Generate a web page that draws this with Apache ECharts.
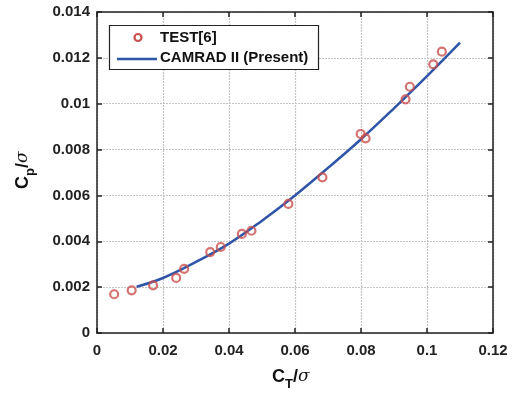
<!DOCTYPE html>
<html><head><meta charset="utf-8">
<script src="https://cdn.jsdelivr.net/npm/echarts@6/dist/echarts.min.js"></script>
<style>html,body{margin:0;padding:0;background:#fff}#c{width:515px;height:396px}</style>
</head><body><div id="c"></div>
<script>
const testCT = [0.0052,0.0105,0.017,0.024,0.0264,0.0343,0.0375,0.0439,0.0468,0.058,0.0683,0.0799,0.0814,0.0935,0.0948,0.1019,0.1045];
const testCP = [0.00169,0.00186,0.00208,0.0024,0.0028,0.00353,0.00375,0.00432,0.00446,0.00563,0.00679,0.00868,0.00849,0.01019,0.01074,0.01172,0.01227];
const camCT = [0.012,0.02,0.03,0.04,0.05,0.06,0.07,0.08,0.09,0.1,0.11];
const camCP = [0.00202,0.0024,0.0031,0.0039,0.0049,0.0060,0.0072,0.00845,0.0098,0.0112,0.01266];
const xTicks = [0,0.02,0.04,0.06,0.08,0.1,0.12];
const yTicks = [0,0.002,0.004,0.006,0.008,0.01,0.012,0.014];

const chart = echarts.init(document.getElementById('c'), null, {renderer:'canvas'});
const font = 'Liberation Sans, Arial, sans-serif';
const lab = {fontFamily:font,fontWeight:'bold',fontSize:15,color:'#222'};
const base = {type:'value',axisLine:{show:true,onZero:false,lineStyle:{color:'#222',width:1.5}},
  axisTick:{show:true,inside:true,length:5,lineStyle:{color:'#222',width:1.5}}};
chart.setOption({
  animation:false,
  grid:{left:97,right:22,top:12,bottom:63},
  xAxis:[
    Object.assign({},base,{min:xTicks[0],max:xTicks[xTicks.length-1],interval:0.02,position:'bottom',
      axisLabel:Object.assign({margin:10,formatter:v=>String(+v.toFixed(4))},lab),
      splitLine:{show:true,lineStyle:{color:'#c4c4c4',type:[2,1],width:1.2}}}),
    Object.assign({},base,{min:xTicks[0],max:xTicks[xTicks.length-1],interval:0.02,position:'top',axisLabel:{show:false},splitLine:{show:false}})
  ],
  yAxis:[
    Object.assign({},base,{min:yTicks[0],max:yTicks[yTicks.length-1],interval:0.002,position:'left',
      axisLabel:Object.assign({margin:7,formatter:v=>String(+v.toFixed(4))},lab),
      splitLine:{show:true,lineStyle:{color:'#c4c4c4',type:[2,1],width:1.2}}}),
    Object.assign({},base,{min:yTicks[0],max:yTicks[yTicks.length-1],interval:0.002,position:'right',axisLabel:{show:false},splitLine:{show:false}})
  ],
  legend:{show:false},
  series:[
    {name:'CAMRAD II (Present)',type:'line',data:camCT.map((x,i)=>[x,camCP[i]]),smooth:0.4,showSymbol:false,
      lineStyle:{color:'#2f55a8',width:2.5},z:2},
    {name:'TEST[6]',type:'scatter',data:testCT.map((x,i)=>[x,testCP[i]]),symbol:'circle',symbolSize:8,
      itemStyle:{color:'rgba(0,0,0,0)',borderColor:'#c9504f',borderWidth:2.2},z:3}
  ],
  graphic:[
    {type:'rect',shape:{x:109.5,y:25.5,width:209,height:44},style:{fill:'#fff',stroke:'#222',lineWidth:1.2},z:10},
    {type:'circle',shape:{cx:138,cy:37.5,r:3.5},style:{fill:'none',stroke:'#c9504f',lineWidth:2.2},z:11},
    {type:'line',shape:{x1:117,y1:59,x2:157,y2:59},style:{stroke:'#2f55a8',lineWidth:2.5},z:11},
    {type:'text',x:160,y:38,style:{text:'TEST[6]',font:'bold 15px '+font,fill:'#111',verticalAlign:'middle'},z:11},
    {type:'text',x:160,y:58,style:{text:'CAMRAD II (Present)',font:'bold 15px '+font,fill:'#111',verticalAlign:'middle'},z:11},
    {type:'text',x:272,y:377,style:{text:'{a|C}{s|T}{a|/}{g|σ}',verticalAlign:'middle',rich:{
      a:{fontFamily:font,fontWeight:'bold',fontSize:18,fill:'#111'},
      s:{fontFamily:font,fontWeight:'bold',fontSize:13,fill:'#111',padding:[14,0,0,0]},
      g:{fontFamily:'DejaVu Serif, serif',fontStyle:'italic',fontSize:17,fill:'#111'}}},z:11},
    {type:'text',x:23,y:189,rotation:Math.PI/2,style:{text:'{a|C}{s|p}{a|/}{g|σ}',verticalAlign:'middle',rich:{
      a:{fontFamily:font,fontWeight:'bold',fontSize:18,fill:'#111'},
      s:{fontFamily:font,fontWeight:'bold',fontSize:13,fill:'#111',padding:[14,0,0,0]},
      g:{fontFamily:'DejaVu Serif, serif',fontStyle:'italic',fontSize:17,fill:'#111'}}},z:11}
  ]
});
</script></body></html>
